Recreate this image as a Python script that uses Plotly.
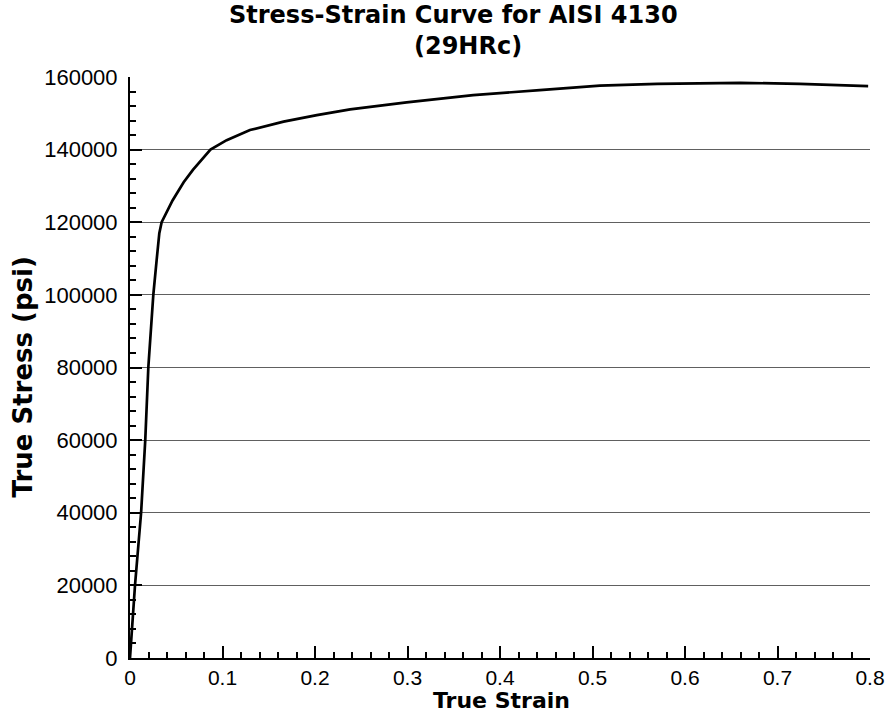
import plotly.graph_objects as go

# Data
strain = [0, 0.0054, 0.012, 0.0165, 0.0198, 0.0252, 0.0288, 0.0317, 0.0342,
          0.046, 0.058, 0.068, 0.087, 0.1045, 0.1297, 0.166, 0.202, 0.238,
          0.299, 0.371, 0.443, 0.508, 0.57, 0.616, 0.66, 0.724, 0.76, 0.798]
stress = [0, 20000, 40000, 60000, 80000, 100000, 109600, 117000, 120000,
          126000, 131000, 134400, 140000, 142600, 145400, 147700, 149500, 151100,
          153000, 155000, 156400, 157600, 158100, 158300, 158400, 158100, 157900, 157500]

y_ticks = [0, 20000, 40000, 60000, 80000, 100000, 120000, 140000, 160000]
x_ticks = [0, 0.1, 0.2, 0.3, 0.4, 0.5, 0.6, 0.7, 0.8]
x_labels = ["0", "0.1", "0.2", "0.3", "0.4", "0.5", "0.6", "0.7", "0.8"]

title_line1 = "Stress-Strain Curve for AISI 4130"
title_line2 = "(29HRc)"
x_title = "True Strain"
y_title = "True Stress (psi)"

FONT = "Arial, Liberation Sans, Helvetica, sans-serif"
TFONT = "DejaVu Sans, Verdana, sans-serif"

fig = go.Figure()
fig.add_trace(go.Scatter(x=strain, y=stress, mode="lines",
                         line=dict(color="black", width=2.7),
                         showlegend=False, hoverinfo="x+y"))

fig.update_layout(
    width=889, height=713,
    paper_bgcolor="white", plot_bgcolor="white",
    margin=dict(l=130, r=19, t=77, b=55),
    font=dict(family=FONT, color="black"),
)

ann_font = lambda s: dict(size=s, family=TFONT, color="black")
fig.add_annotation(text=f"<b>{title_line1}</b>", xref="paper", yref="paper",
                   x=0.4378, y=1.1067, xanchor="center", yanchor="middle",
                   showarrow=False, font=ann_font(24))
fig.add_annotation(text=f"<b>{title_line2}</b>", xref="paper", yref="paper",
                   x=0.4568, y=1.0534, xanchor="center", yanchor="middle",
                   showarrow=False, font=ann_font(24))
fig.add_annotation(text=f"<b>{x_title}</b>", xref="paper", yref="paper",
                   x=0.5027, y=-0.0735, xanchor="center", yanchor="middle",
                   showarrow=False, font=ann_font(22))
fig.add_annotation(text=f"<b>{y_title}</b>", xref="paper", yref="paper",
                   x=-0.1440, y=0.4836, xanchor="center", yanchor="middle",
                   textangle=-90, showarrow=False, font=ann_font(26))

fig.update_xaxes(
    range=[0, 0.8], tickvals=x_ticks, ticktext=x_labels,
    showgrid=False, zeroline=False, automargin=False,
    showline=True, linecolor="black", linewidth=2,
    ticks="inside", ticklen=12, tickwidth=2, tickcolor="black",
    tickfont=dict(size=21, family=FONT, color="black"),
    minor=dict(dtick=0.02, ticks="inside", ticklen=6, tickwidth=1.5,
               tickcolor="black", showgrid=False),
)

fig.update_yaxes(
    range=[0, 160000], tickvals=y_ticks, ticktext=[str(v) for v in y_ticks],
    showgrid=True, gridcolor="#606060", gridwidth=1.2, zeroline=False,
    automargin=False,
    showline=True, linecolor="black", linewidth=2,
    ticks="inside", ticklen=12, tickwidth=2, tickcolor="black",
    ticklabelstandoff=6,
    tickfont=dict(size=22, family=FONT, color="black"),
    minor=dict(dtick=4000, ticks="inside", ticklen=6, tickwidth=1.5,
               tickcolor="black", showgrid=False),
)

fig.write_html("out.html", config={"displayModeBar": False},
               post_script="document.body.style.margin='0';document.body.style.padding='0';")
